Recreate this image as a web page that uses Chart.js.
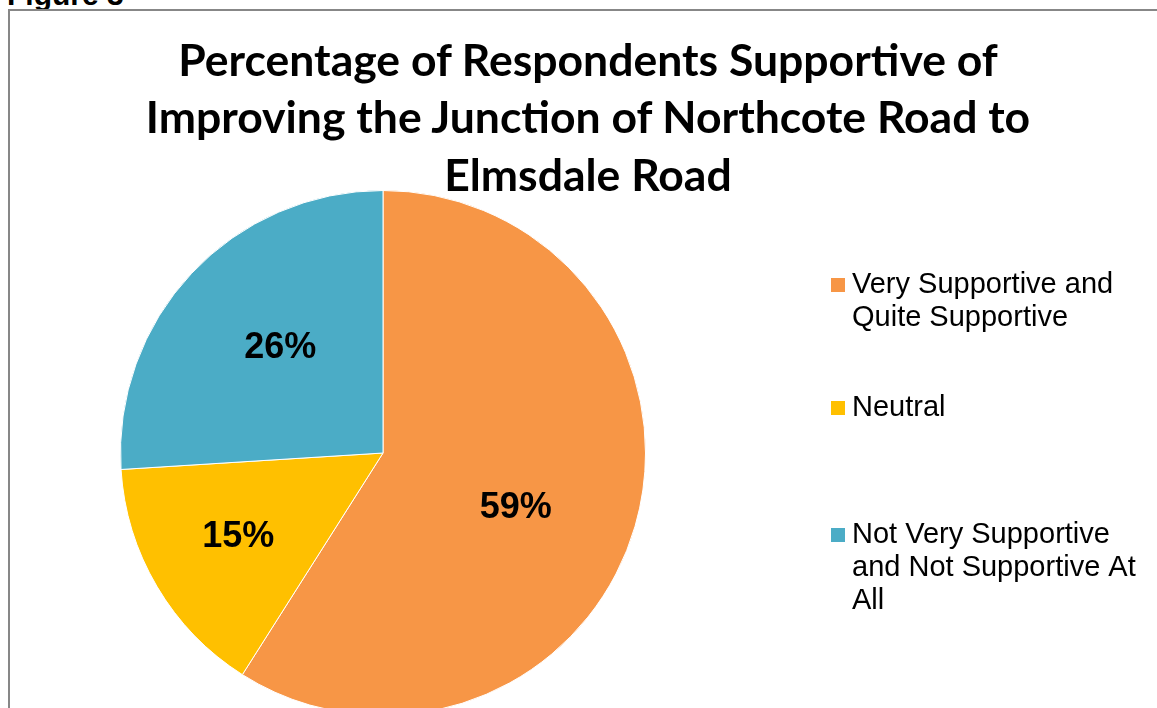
<!DOCTYPE html>
<html>
<head>
<meta charset="utf-8">
<script src="https://cdn.jsdelivr.net/npm/chart.js@4.4.1/dist/chart.umd.min.js"></script>
<style>
  html, body { margin: 0; padding: 0; background: #fff; overflow: hidden; }
  body { width: 1157px; height: 708px; position: relative; }
  #figLabel { position: absolute; left: 7px; top: -20px; font: bold 30px/30px "Liberation Sans", Arial, sans-serif; color: #000; white-space: nowrap; }
  #frame { position: absolute; left: 8px; top: 9px; width: 1200px; height: 800px; border: 2px solid #878787; box-sizing: border-box; }
  #title { position: absolute; left: 8px; width: 1160px; top: 29.5px; text-align: center; font: 700 44.5px/57.5px Lato, "Noto Sans", sans-serif; color: #000; }
  #wrap { position: absolute; left: 0; top: 0; width: 1176px; height: 740px; }
</style>
</head>
<body>
<div id="figLabel">Figure 3</div>
<div id="frame"></div>
<div id="wrap"><canvas id="pie"></canvas></div>
<div id="title">Percentage of Respondents Supportive of<br>Improving the Junction of Northcote Road to<br>Elmsdale Road</div>
<script>
const categories = ["Very Supportive and Quite Supportive", "Neutral", "Not Very Supportive and Not Supportive At All"];
const legendLines = [["Very Supportive and", "Quite Supportive"], ["Neutral"], ["Not Very Supportive", "and Not Supportive At", "All"]];
const shares = [59, 15, 26];
const sliceColours = ["#F79646", "#FFC000", "#4BACC6"];

// percent labels inside the slices
const sliceLabels = {
  id: "sliceLabels",
  afterDatasetsDraw(chart, args, opts) {
    const ctx = chart.ctx;
    const meta = chart.getDatasetMeta(0);
    ctx.save();
    ctx.font = "bold 36px 'Liberation Sans', Arial, sans-serif";
    ctx.fillStyle = "#000";
    ctx.textAlign = "center";
    ctx.textBaseline = "middle";
    meta.data.forEach((arc, i) => {
      const p = arc.getProps(["x", "y", "startAngle", "endAngle", "outerRadius"], true);
      const mid = (p.startAngle + p.endAngle) / 2 + opts.angleShift[i] * Math.PI / 180;
      const r = p.outerRadius * opts.radiusFrac[i];
      ctx.fillText(shares[i] + "%", p.x + Math.cos(mid) * r, p.y + Math.sin(mid) * r);
    });
    ctx.restore();
  }
};

// legend drawn to the right, one block per category
const sideLegend = {
  id: "sideLegend",
  afterDraw(chart, args, opts) {
    const ctx = chart.ctx;
    const colours = chart.data.datasets[0].backgroundColor;
    ctx.save();
    ctx.font = "29px 'Liberation Sans', Arial, sans-serif";
    ctx.textBaseline = "middle";
    ctx.textAlign = "left";
    legendLines.forEach((lines, i) => {
      const y = opts.itemY[i];
      ctx.fillStyle = colours[i];
      ctx.fillRect(opts.boxX, y - 7, 14, 14);
      ctx.fillStyle = "#000";
      lines.forEach((line, j) => ctx.fillText(line, opts.textX, y + j * opts.lineHeight));
    });
    ctx.restore();
  }
};

new Chart(document.getElementById("pie"), {
  type: "pie",
  data: {
    labels: categories,
    datasets: [{
      data: shares,
      backgroundColor: sliceColours,
      borderColor: "#ffffff",
      borderWidth: 1
    }]
  },
  options: {
    responsive: true,
    maintainAspectRatio: false,
    animation: false,
    layout: { padding: { left: 120, right: 530, top: 190, bottom: 24 } },
    plugins: {
      legend: { display: false },
      title: { display: false },
      tooltip: { enabled: false },
      sliceLabels: { radiusFrac: [0.547, 0.637, 0.559], angleShift: [6.3, 0.5, 2.4] },
      sideLegend: { boxX: 831, textX: 852, itemY: [285, 408, 535], lineHeight: 33 }
    }
  },
  plugins: [sliceLabels, sideLegend]
});
</script>
</body>
</html>
